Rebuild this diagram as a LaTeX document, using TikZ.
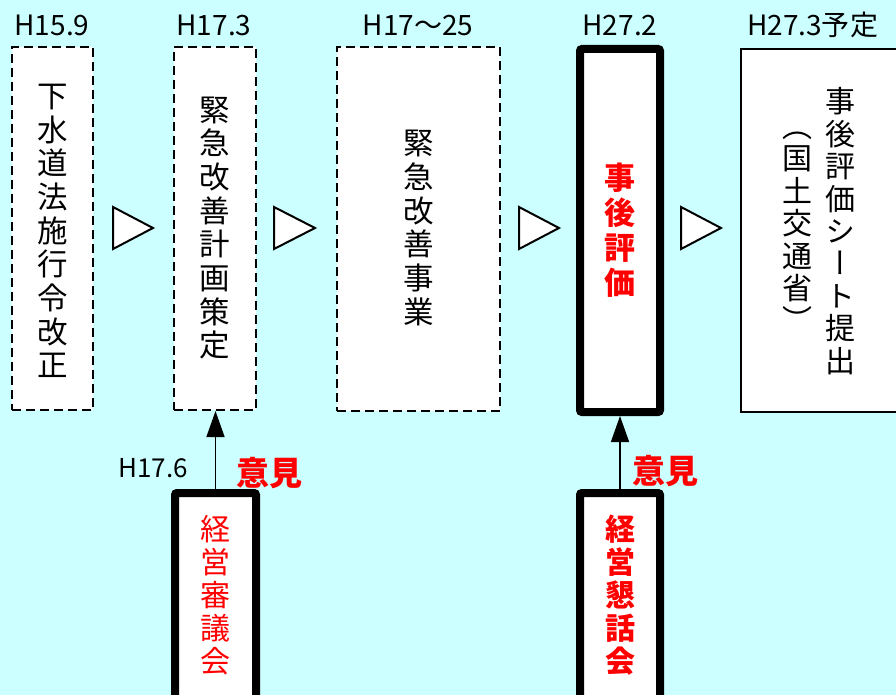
\documentclass[tikz,border=0pt]{standalone}
\usepackage{fontspec}
\setmainfont{Noto Sans CJK JP}
\newfontfamily\jpv[RawFeature=+vert]{Noto Sans CJK JP}
\usetikzlibrary{arrows.meta}
\definecolor{bgcyan}{HTML}{CCFFFF}
\definecolor{txtred}{HTML}{FF0000}
\tikzset{
  x=1pt, y=-1pt,
  dbox/.style={draw=black, fill=white, line width=2pt, dash pattern=on 9pt off 5pt, inner sep=0pt, align=center},
  sbox/.style={draw=black, fill=white, line width=1.5pt, inner sep=0pt, align=center},
  tbox/.style={draw=black, fill=white, line width=8pt, rounded corners=2pt, inner sep=0pt, align=center},
  vtext/.style={font=\jpv\fontsize{30.5pt}{33.7pt}\selectfont, align=center, inner sep=0pt},
  datelbl/.style={font=\fontsize{28pt}{30pt}\selectfont, inner sep=0pt},
  opinion/.style={font=\bfseries\fontsize{33pt}{35pt}\selectfont, text=txtred, inner sep=0pt},
  stepmark/.style={draw=black, fill=white, line width=2pt, line join=miter},
  arr/.style={line width=1.5pt, -{Triangle[length=26pt,width=18pt]}}
}
\begin{document}
\begin{tikzpicture}
\fill[bgcyan] (0,0) rectangle (896,695);
\useasboundingbox (0,0) rectangle (896,695);
\clip (0,0) rectangle (896,695);

% top date labels
\node[datelbl] (d1) at (52,25) {H15.9};
\node[datelbl] (d2) at (214,25) {H17.3};
\node[datelbl] (d3) at (418,25) {H17〜25};
\node[datelbl] (d4) at (620,25) {H27.2};
\node[datelbl, anchor=west] (d5) at (747,25) {H27.3予定};

% upper boxes
\node[dbox, minimum width=81pt, minimum height=363pt] (b1) at (52.5,228.5) {};
\node[vtext] (t1) at (52.5,231) {下\\水\\道\\法\\施\\行\\令\\改\\正};

\node[dbox, minimum width=82pt, minimum height=363pt] (b2) at (215,228.5) {};
\node[vtext] (t2) at (215,228) {緊\\急\\改\\善\\計\\画\\策\\定};

\node[dbox, minimum width=163pt, minimum height=364pt] (b3) at (418.5,229) {};
\node[vtext] (t3) at (418.5,228) {緊\\急\\改\\善\\事\\業};

\node[tbox, minimum width=80pt, minimum height=363pt] (b4) at (620,230.5) {};
\node[vtext, font=\jpv\bfseries\fontsize{31pt}{35pt}\selectfont, text=txtred] (t4) at (620,230) {事\\後\\評\\価};

\node[sbox, minimum width=170pt, minimum height=363pt] (b5) at (826,230.5) {};
\node[vtext, font=\jpv\fontsize{30pt}{32.4pt}\selectfont] (t5a) at (840,231) {事\\後\\評\\価\\シ\\ー\\ト\\提\\出};
\node[vtext, font=\jpv\fontsize{30pt}{32.4pt}\selectfont] (t5b) at (797,232) {（\\国\\土\\交\\通\\省\\）};

% step marks
\draw[stepmark] (113,207) -- (113,249) -- (153,228) -- cycle;
\draw[stepmark] (274,207) -- (274,249) -- (315,228) -- cycle;
\draw[stepmark] (519,207) -- (519,249) -- (559,228) -- cycle;
\draw[stepmark] (681,207) -- (681,249) -- (721,228) -- cycle;

% lower boxes
\node[tbox, minimum width=81pt, minimum height=240pt] (b6) at (215.5,613) {};
\node[vtext, text=txtred, font=\jpv\fontsize{30pt}{33pt}\selectfont] (t6) at (215.5,595) {経\\営\\審\\議\\会};

\node[tbox, minimum width=80pt, minimum height=240pt] (b7) at (620,613) {};
\node[vtext, text=txtred, font=\jpv\bfseries\fontsize{30pt}{33pt}\selectfont] (t7) at (620,595) {経\\営\\懇\\話\\会};

% arrows
\draw[arr] (b6.north) -- (b6.north |- b2.south);
\draw[arr] (b7.north) -- (b7.north |- b4.south);

% labels
\node[datelbl, font=\fontsize{26pt}{28pt}\selectfont] (d6) at (153,468) {H17.6};
\node[opinion] (o1) at (269,473) {意見};
\node[opinion] (o2) at (665,471) {意見};
\end{tikzpicture}
\end{document}
